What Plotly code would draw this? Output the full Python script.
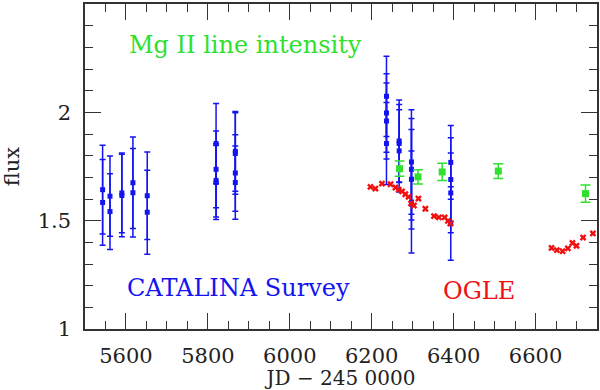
import plotly.graph_objects as go

# CATALINA survey (blue), several measurements per epoch
catalina_jd = [5543, 5543, 5561, 5561, 5590, 5590, 5617, 5617, 5652, 5652,
               5820, 5820, 5820, 5820, 5867, 5867, 5867, 5867,
               6236, 6236, 6236, 6236, 6267, 6267, 6267,
               6297, 6297, 6297, 6297, 6393, 6393, 6393, 6393]
catalina_flux = [1.643, 1.584, 1.613, 1.542, 1.628, 1.616, 1.675, 1.629, 1.615, 1.539,
                 1.856, 1.737, 1.686, 1.676, 1.820, 1.810, 1.720, 1.676,
                 2.074, 1.997, 1.960, 1.856, 1.868, 1.856, 1.822,
                 1.771, 1.737, 1.691, 1.586, 1.769, 1.690, 1.628, 1.487]
catalina_err = [0.205, 0.198, 0.185, 0.175, 0.184, 0.190, 0.211, 0.204, 0.202, 0.194,
                0.185, 0.177, 0.169, 0.171, 0.184, 0.188, 0.176, 0.169,
                0.185, 0.181, 0.175, 0.189, 0.189, 0.180, 0.190,
                0.241, 0.234, 0.230, 0.235, 0.170, 0.193, 0.184, 0.170]

# Mg II line intensity (green)
mg_jd = [6268, 6313, 6372, 6509, 6722]
mg_flux = [1.740, 1.702, 1.725, 1.729, 1.625]
mg_err = [0.035, 0.033, 0.040, 0.034, 0.040]

# OGLE (red)
ogle_jd = [6197, 6209, 6225, 6246, 6258, 6266, 6274, 6282, 6290, 6296, 6303, 6314,
           6331, 6352, 6364, 6378, 6386, 6392,
           6639, 6652, 6666, 6679, 6690, 6700, 6716, 6740]
ogle_flux = [1.656, 1.648, 1.671, 1.668, 1.653, 1.643, 1.635, 1.622, 1.610, 1.579, 1.570, 1.602,
             1.555, 1.521, 1.515, 1.515, 1.499, 1.487,
             1.374, 1.364, 1.359, 1.372, 1.397, 1.384, 1.422, 1.441]

FONT = "DejaVu Serif"
BLUE = "#1414f0"
GREEN = "#2fe02f"
RED = "#f01010"

fig = go.Figure()

fig.add_trace(
    go.Scatter(
        x=catalina_jd,
        y=catalina_flux,
        mode="markers",
        marker=dict(symbol="square", color=BLUE, size=5),
        error_y=dict(type="data", array=catalina_err, color=BLUE, thickness=1.5, width=3),
        name="CATALINA",
    )
)
fig.add_trace(
    go.Scatter(
        x=mg_jd,
        y=mg_flux,
        mode="markers",
        marker=dict(symbol="square", color=GREEN, size=7),
        error_y=dict(type="data", array=mg_err, color=GREEN, thickness=1.5, width=5),
        name="Mg II",
    )
)
fig.add_trace(
    go.Scatter(
        x=ogle_jd,
        y=ogle_flux,
        mode="markers",
        marker=dict(symbol="x", color=RED, size=6),
        name="OGLE",
    )
)

fig.add_annotation(x=5603, y=2.31, text="Mg II line intensity", showarrow=False,
                   xanchor="left", font=dict(family=FONT, size=24, color=GREEN))
fig.add_annotation(x=5598, y=1.19, text="CATALINA Survey", showarrow=False,
                   xanchor="left", font=dict(family=FONT, size=24, color=BLUE))
fig.add_annotation(x=6370, y=1.175, text="OGLE", showarrow=False,
                   xanchor="left", font=dict(family=FONT, size=24, color=RED))

axis_common = dict(
    automargin=False,
    showline=True,
    linecolor="#333",
    linewidth=1.5,
    mirror="allticks",
    ticks="inside",
    ticklen=16,
    tickwidth=1.2,
    tickcolor="#333",
    showgrid=False,
    zeroline=False,
    tickfont=dict(family=FONT, size=21, color="#222"),
)

fig.update_xaxes(
    range=[5500, 6750],
    tick0=0,
    dtick=200,
    minor=dict(ticks="inside", ticklen=8, dtick=50, tick0=0, tickcolor="#333", tickwidth=1.2),
    ticklabelstandoff=7,
    title=dict(text="JD − 245 0000", font=dict(family=FONT, size=20, color="#222"), standoff=6),
    **axis_common,
)
fig.update_yaxes(
    range=[1, 2.5],
    tickmode="array",
    tickvals=[1, 1.5, 2],
    minor=dict(ticks="inside", ticklen=8, tickmode="linear", dtick=0.1, tick0=1,
               tickcolor="#333", tickwidth=1.2),
    ticklabelstandoff=8,
    title=dict(text="flux", font=dict(family=FONT, size=21, color="#222"), standoff=14),
    **axis_common,
)

fig.update_layout(
    width=600,
    height=390,
    margin=dict(l=85, r=3, t=4, b=61),
    paper_bgcolor="white",
    plot_bgcolor="white",
    showlegend=False,
)

# page body has a default 8px margin; drop it so the figure sits at the window origin
fig.write_html(
    "out.html",
    config={"displayModeBar": False},
    post_script="document.body.style.margin='0';",
)
